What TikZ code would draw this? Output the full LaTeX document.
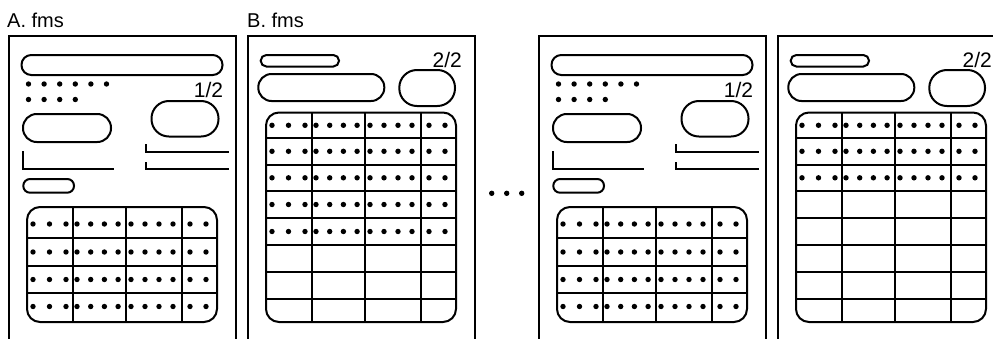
\documentclass[tikz,border=0pt]{standalone}
\usepackage{fontspec}
\setmainfont{Liberation Sans}

\tikzset{
  frame/.style={line width=2pt},
  outl/.style={line width=2pt},
  pagelabel/.style={anchor=base west, inner sep=0pt, font=\fontsize{20}{24}\selectfont},
  pagenum/.style={anchor=base east, inner sep=0pt, font=\fontsize{21}{24}\selectfont}
}

% stadium shape between two corners
\newcommand{\pill}[4]{%
  \pgfmathsetmacro{\pillr}{0.49*(#4-#2)}%
  \draw[outl, rounded corners=\pillr pt] (#1,#2) rectangle (#3,#4);}

% one row of dots in a table
\newcommand{\tabledots}[1]{%
  \foreach \dx in {24.5,41,57.5,68.5,82.2,95.9,109.6,122.5,136.5,150.5,164.5,181.5,197.5}
    \fill (\dx,#1) circle (2.7);}

% first page: header fields and a 4-row table
\newcommand{\fmsfirst}[1]{%
  \draw[frame] (0,340) -- (0,36) -- (227.5,36) -- (227.5,340);
  \pill{13}{55}{214}{75}
  \foreach \dx in {0,...,5} \fill (20+15.6*\dx,84) circle (2.7);
  \foreach \dx in {0,...,3} \fill (20+15.6*\dx,99.5) circle (2.7);
  \node[pagenum] (#1num) at (214.8,97.5) {1/2};
  \pill{143}{101}{210}{136.5}
  \pill{14.5}{114}{102.5}{142}
  \draw[outl] (14.8,151) -- (14.8,169) -- (105.5,169);
  \draw[outl] (137.5,144) -- (137.5,152) -- (220.5,152);
  \draw[outl] (137.5,162) -- (137.5,169) -- (220.5,169);
  \pill{14.8}{179}{65.5}{192.7}
  \draw[outl, rounded corners=13pt] (18.5,207) rectangle (208.5,322);
  \foreach \ry in {238,266,293} \draw[outl] (18.5,\ry) -- (208.5,\ry);
  \foreach \cx in {64.2,117.5,173.8} \draw[outl] (\cx,207) -- (\cx,322);
  \foreach \ry in {224,252,279.5,306.5} \tabledots{\ry};
}

% second page: header fields and an 8-row table
\newcommand{\fmssecond}[2]{%
  \draw[frame] (0,340) -- (0,36) -- (227,36) -- (227,340);
  \pill{13.2}{55}{91.5}{66.5}
  \pill{10.8}{74}{136.8}{101}
  \node[pagenum] (#1num) at (214.5,67.3) {2/2};
  \pill{151.8}{70}{207.5}{106}
  \draw[outl, rounded corners=13pt] (18.5,112.5) rectangle (208.5,322);
  \foreach \ry in {138,164.5,191,218,245,272,299} \draw[outl] (18.5,\ry) -- (208.5,\ry);
  \foreach \cx in {64.2,117.5,173.8} \draw[outl] (\cx,112.5) -- (\cx,322);
  \foreach \ry in {#2} \tabledots{\ry};
}

\begin{document}
\begin{tikzpicture}[x=1pt,y=-1pt]
  \useasboundingbox (0,0) rectangle (993,338);
  \clip (0,0) rectangle (993,338);
  % Draw the file titles
  \node[pagelabel] (titlea) at (7,27) {A. fms};
  \node[pagelabel] (titleb) at (247,27) {B. fms};
  % Draw the first two pages
  \begin{scope}[shift={(8.5,0)}] \fmsfirst{pa} \end{scope}
  \begin{scope}[shift={(247.5,0)}] \fmssecond{pb}{125.3,151.3,177.8,204.5,231.5} \end{scope}
  % Draw the ellipsis
  \foreach \ex in {491.7,506.7,521.7} \fill (\ex,193.3) circle (2.7);
  % Draw the last two pages
  \begin{scope}[shift={(538.5,0)}] \fmsfirst{pc} \end{scope}
  \begin{scope}[shift={(777.5,0)}] \fmssecond{pd}{125.3,151.3,177.8} \end{scope}
\end{tikzpicture}
\end{document}
